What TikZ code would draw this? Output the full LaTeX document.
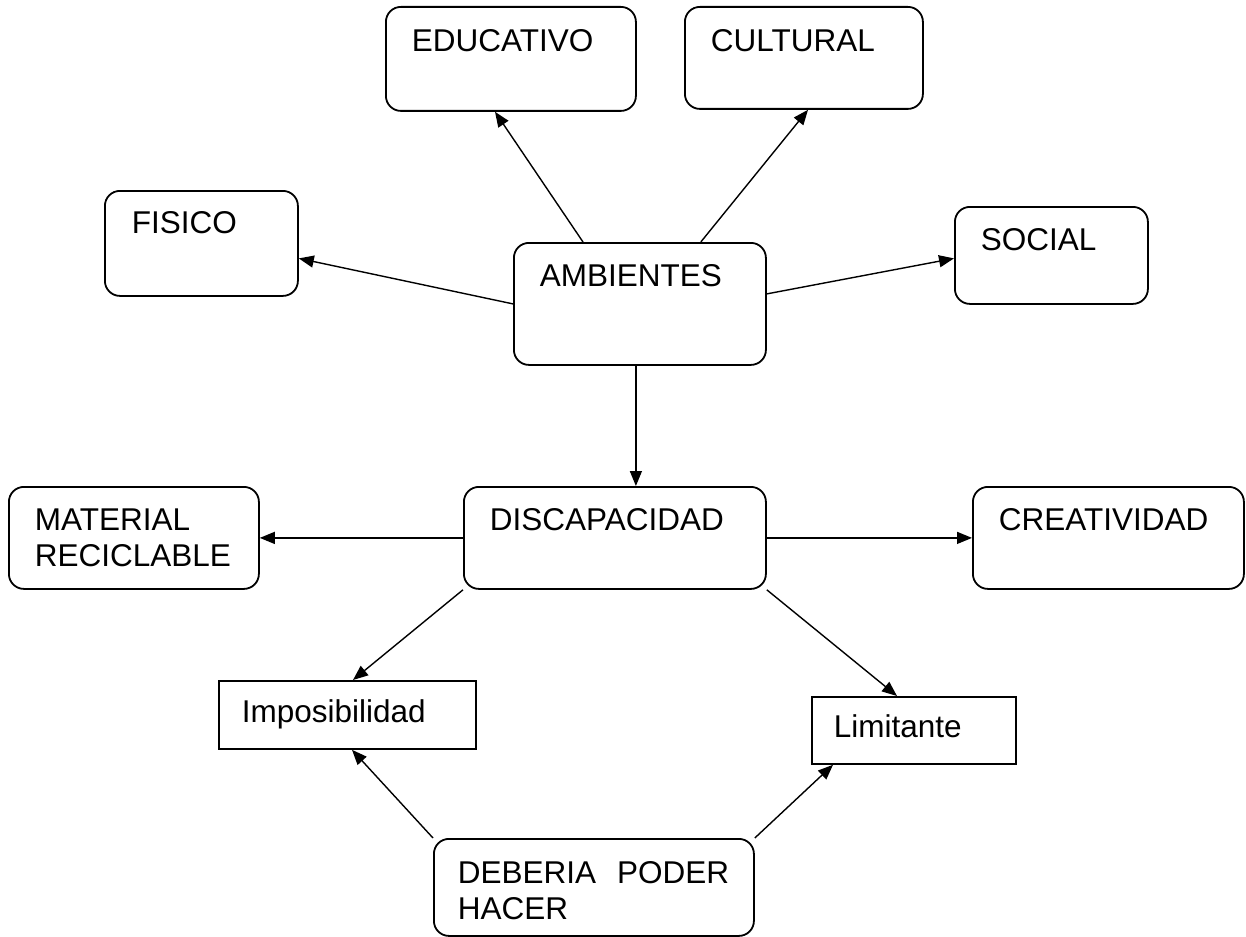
\documentclass[tikz,border=0pt]{standalone}
\usepackage{fontspec}
\setmainfont{Liberation Sans}
\usetikzlibrary{arrows.meta}
\begin{document}
\begin{tikzpicture}[
  x=1pt, y=-1pt,
  every node/.style={anchor=north west, align=left, inner ysep=0pt, font=\fontsize{31.5}{36}\selectfont},
  flecha/.style={line width=1.4pt, -{Triangle[length=15pt,width=12pt]}}
]
\tikzset{
  caja/.style={draw, line width=1.8pt, rounded corners=15pt, inner xsep=26pt},
  cajarecta/.style={draw, line width=1.8pt}
}
\useasboundingbox (0,0) rectangle (1246,936);
\node[caja, text width=198pt, text height=45pt, text depth=59pt] (edu) at (385,6) {EDUCATIVO};
\node[caja, text width=186pt, text height=45pt, text depth=57pt] (cul) at (684,6) {CULTURAL};
\node[caja, inner xsep=27pt, text width=139pt, text height=43pt, text depth=62pt] (fis) at (104,190) {FISICO};
\node[caja, text width=200pt, text height=44pt, text depth=78pt] (amb) at (513,242) {AMBIENTES};
\node[caja, text width=141pt, text height=44pt, text depth=53pt] (soc) at (954,206) {SOCIAL};
\node[caja, text width=198pt, text height=44pt, text depth=58pt] (mat) at (8,486) {MATERIAL\\RECICLABLE};
\node[caja, text width=250pt, text height=44pt, text depth=58pt] (dis) at (463,486) {DISCAPACIDAD};
\node[caja, text width=219pt, text height=44pt, text depth=58pt] (cre) at (972,486) {CREATIVIDAD};
\node[cajarecta, inner xsep=23pt, text width=211pt, text height=42pt, text depth=26pt] (imp) at (218,680) {Imposibilidad};
\node[cajarecta, inner xsep=22pt, text width=160pt, text height=41pt, text depth=26pt] (lim) at (811,696) {Limitante};
\node[caja, inner xsep=24pt, text width=272pt, text height=45pt, text depth=52pt] (deb) at (433,838) {DEBERIA~~PODER\\HACER};
% ambientes
\draw[flecha] ([xshift=70pt]amb.north west) -- ([xshift=110pt]edu.south west);
\draw[flecha] ([xshift=-66pt]amb.north east) -- ([xshift=124pt]cul.south west);
\draw[flecha] (amb.west) -- ([yshift=-15pt]fis.east);
\draw[flecha] ([yshift=10pt]amb.east) -- ([yshift=-3pt]soc.west);
\draw[flecha] ([xshift=-4pt]amb.south) -- ([xshift=-4pt]amb.south |- dis.north);
% discapacidad
\draw[flecha] (dis.west) -- (mat.east);
\draw[flecha] (dis.east) -- (cre.west);
\draw[flecha] (dis.south west) -- ([xshift=135pt]imp.north west);
\draw[flecha] (dis.south east) -- ([xshift=86pt]lim.north west);
\draw[flecha] (deb.north west) -- ([xshift=134pt]imp.south west);
\draw[flecha] (deb.north east) -- ([xshift=22pt]lim.south west);
\end{tikzpicture}
\end{document}
